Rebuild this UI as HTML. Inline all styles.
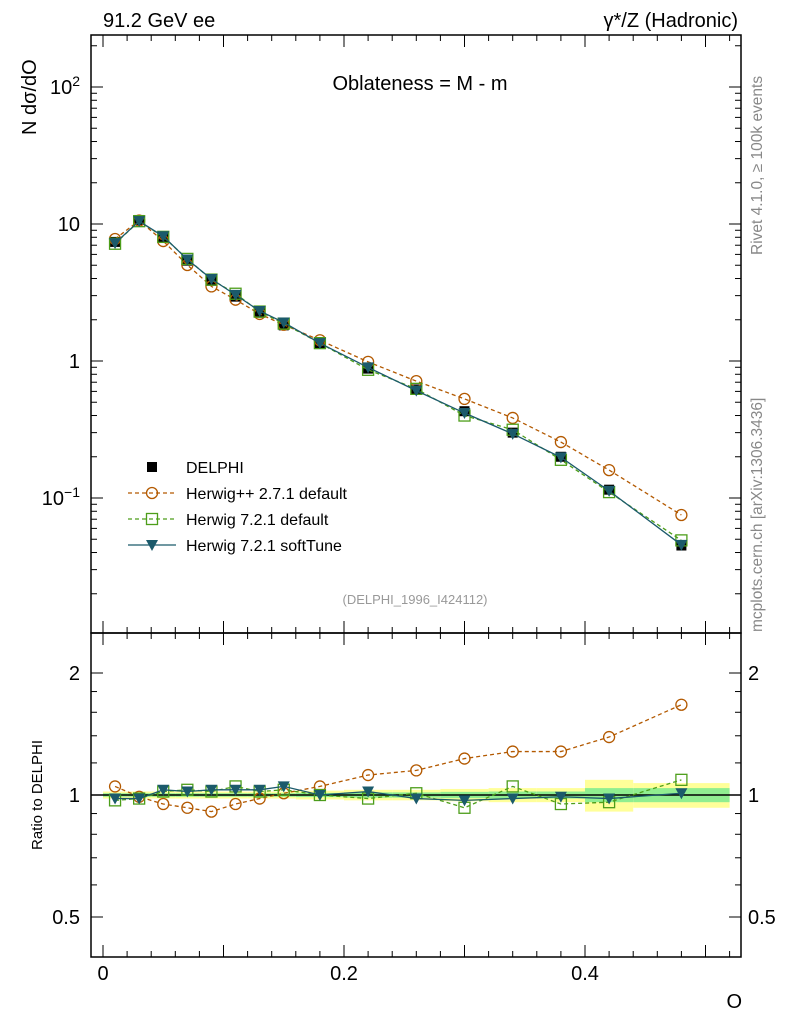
<!DOCTYPE html>
<html><head><meta charset="utf-8"><style>
body{margin:0;background:#fff;font-family:"Liberation Sans",sans-serif}
svg text{font-family:"Liberation Sans",sans-serif}
</style></head><body>
<svg id="c" width="786" height="1024" xmlns="http://www.w3.org/2000/svg">
<text x="103" y="27" font-size="20">91.2 GeV ee</text>
<text x="738" y="27" font-size="20" text-anchor="end">γ*/Z (Hadronic)</text>
<text x="420" y="90" font-size="20" text-anchor="middle">Oblateness = M - m</text>
<text x="36" y="135" font-size="20" transform="rotate(-90 36 135)">N  dσ/dO</text>
<text x="42" y="795" font-size="15" text-anchor="middle" transform="rotate(-90 42 795)">Ratio to DELPHI</text>
<text x="742" y="1008" font-size="20" text-anchor="end">O</text>
<text x="415" y="604" font-size="13" fill="#999" text-anchor="middle">(DELPHI_1996_I424112)</text>
<text x="762" y="255" font-size="15.5" fill="#888" transform="rotate(-90 762 255)">Rivet 4.1.0, ≥ 100k events</text>
<text x="762" y="632" font-size="15.5" fill="#888" transform="rotate(-90 762 632)">mcplots.cern.ch [arXiv:1306.3436]</text>
<g id="g"></g>
</svg>
<script>
const xs=[0.01,0.03,0.05,0.07,0.09,0.11,0.13,0.15,0.18,0.22,0.26,0.30,0.34,0.38,0.42,0.48];
const edges=[0,0.02,0.04,0.06,0.08,0.10,0.12,0.14,0.16,0.20,0.24,0.28,0.32,0.36,0.40,0.44,0.52];
const data=[7.4,10.7,7.9,5.4,3.85,2.95,2.25,1.82,1.35,0.88,0.62,0.43,0.30,0.20,0.115,0.045];
const rHpp=[1.05,0.99,0.95,0.93,0.91,0.95,0.98,1.01,1.05,1.12,1.15,1.23,1.28,1.28,1.39,1.67];
const rH7=[0.97,0.98,1.02,1.03,1.02,1.05,1.02,1.03,1.0,0.98,1.01,0.93,1.05,0.95,0.96,1.09];
const rSoft=[0.98,0.98,1.03,1.02,1.03,1.03,1.03,1.05,1.0,1.02,0.98,0.97,0.98,0.99,0.98,1.01];
const bandY=[0.02,0.02,0.02,0.02,0.02,0.02,0.02,0.02,0.025,0.03,0.03,0.035,0.04,0.04,0.09,0.07];
const bandG=[0.01,0.01,0.01,0.01,0.01,0.01,0.01,0.01,0.012,0.015,0.015,0.018,0.02,0.02,0.04,0.04];
const X=v=>103+1205*v, Y=v=>361-137*Math.log10(v), R=r=>795-122*Math.log2(r);
const L=91,Rt=741,T=35,M=633,B=957;
const g=document.getElementById('g');const NS='http://www.w3.org/2000/svg';
function el(t,a,name,p){const e=document.createElementNS(NS,t);for(const k in a)e.setAttribute(k,a[k]);


(p||g).appendChild(e);return e;}
for(let i=0;i<xs.length;i++){
 el('rect',{x:X(edges[i]),y:R(1+bandY[i]),width:X(edges[i+1])-X(edges[i]),height:R(1-bandY[i])-R(1+bandY[i]),fill:'#ffff99'},'band-yellow');
 el('rect',{x:X(edges[i]),y:R(1+bandG[i]),width:X(edges[i+1])-X(edges[i]),height:R(1-bandG[i])-R(1+bandG[i]),fill:'#90ee90'},'band-green');
}
el('line',{x1:L,x2:Rt,y1:R(1),y2:R(1),stroke:'#000','stroke-width':1.5},'ratio-unity-line');
el('rect',{x:L,y:T,width:Rt-L,height:M-T,fill:'none',stroke:'#000','stroke-width':1.5},'main-frame');
el('rect',{x:L,y:M,width:Rt-L,height:B-M,fill:'none',stroke:'#000','stroke-width':1.5},'ratio-frame');
for(let k=0;k<=26;k++){const v=k*0.02,x=X(v);if(x>Rt)break;const big=k%5==0;const h=big?12:6;
 for(const [y0,dir] of [[M,-1],[T,1],[B,-1],[M,1]]) el('line',{x1:x,x2:x,y1:y0,y2:y0+dir*h,stroke:'#000'},'x-tick');
 if(k%10==0) el('text',{x:x,y:980,'font-size':20,'text-anchor':'middle'},'x-tick-label').textContent=(k==0?'0':(v).toFixed(1));
}
for(let d=-2;d<=2;d++){for(let m=1;m<10;m++){const v=m*Math.pow(10,d),y=Y(v);if(y<T||y>M)continue;const h=m==1?12:6;
 el('line',{x1:L,x2:L+h,y1:y,y2:y,stroke:'#000'},'y-tick');el('line',{x1:Rt,x2:Rt-h,y1:y,y2:y,stroke:'#000'},'y-tick');}}
const yl=[[100,'10²'],[10,'10'],[1,'1'],[0.1,'10⁻¹']];
for(const [v,t] of yl){const e=el('text',{x:80,y:Y(v)+7,'font-size':20,'text-anchor':'end'},'y-tick-label');
 if(v==100){e.innerHTML='10<tspan dy="-8" font-size="14">2</tspan>';}else if(v==0.1){e.innerHTML='10<tspan dy="-8" font-size="14">−1</tspan>';}else e.textContent=t;}
const rt=[0.5,0.6,0.7,0.8,0.9,1,2];for(const r of rt){const y=R(r);const h=(r==0.5||r==1||r==2)?12:6;
 el('line',{x1:L,x2:L+h,y1:y,y2:y,stroke:'#000'},'ratio-tick');el('line',{x1:Rt,x2:Rt-h,y1:y,y2:y,stroke:'#000'},'ratio-tick');}
for(const r of [0.5,1,2]){el('text',{x:80,y:R(r)+7,'font-size':20,'text-anchor':'end'},'ratio-tick-label').textContent=String(r);
 el('text',{x:748,y:R(r)+7,'font-size':20},'ratio-tick-label-right').textContent=String(r);}
for(let r=1.2;r<2;r+=0.2){const y=R(r);el('line',{x1:L,x2:L+6,y1:y,y2:y,stroke:'#000'},'ratio-tick');el('line',{x1:Rt,x2:Rt-6,y1:y,y2:y,stroke:'#000'},'ratio-tick');}
const cols={hpp:'#b35900',h7:'#4d9e1a',soft:'#1b5a6b'};
function mark(type,x,y,c,name){
 if(type=='c')el('circle',{cx:x,cy:y,r:5.5,fill:'none',stroke:c,'stroke-width':1.3},name);
 else if(type=='s')el('rect',{x:x-5.5,y:y-5.5,width:11,height:11,fill:'none',stroke:c,'stroke-width':1.3},name);
 else if(type=='t')el('path',{d:`M${x-6},${y-5}L${x+6},${y-5}L${x},${y+6}Z`,fill:c},name);
 else el('rect',{x:x-5,y:y-5,width:10,height:10,fill:'#000'},name);
}
function series(vals,ymap,c,dash,type,name){
 el('polyline',{points:xs.map((x,i)=>X(x)+','+ymap(vals[i])).join(' '),fill:'none',stroke:c,'stroke-width':1.3,'stroke-dasharray':dash||''},name+'-line');
 xs.forEach((x,i)=>mark(type,X(x),ymap(vals[i]),c,name+'-point'));
}
const mHpp=data.map((d,i)=>d*rHpp[i]),mH7=data.map((d,i)=>d*rH7[i]),mSoft=data.map((d,i)=>d*rSoft[i]);
xs.forEach((x,i)=>mark('d',X(x),Y(data[i]),'#000','data-point'));
series(mHpp,Y,cols.hpp,'4,3','c','herwigpp-main');
series(mH7,Y,cols.h7,'4,3','s','herwig7-main');
series(mSoft,Y,cols.soft,'','t','softtune-main');
series(rHpp,R,cols.hpp,'4,3','c','herwigpp-ratio');
series(rH7,R,cols.h7,'4,3','s','herwig7-ratio');
series(rSoft,R,cols.soft,'','t','softtune-ratio');
const leg=[['DELPHI','d','#000',null],['Herwig++ 2.7.1 default','c',cols.hpp,'4,3'],['Herwig 7.2.1 default','s',cols.h7,'4,3'],['Herwig 7.2.1 softTune','t',cols.soft,'']];
leg.forEach((l,i)=>{const y=467+i*26;
 if(l[3]!==null)el('line',{x1:128,x2:176,y1:y,y2:y,stroke:l[2],'stroke-width':1.3,'stroke-dasharray':l[3]},'legend-line');
 mark(l[1],152,y,l[2],'legend-marker');
 el('text',{x:186,y:y+6,'font-size':16},'legend-entry').textContent=l[0];});
</script>
</body></html>
